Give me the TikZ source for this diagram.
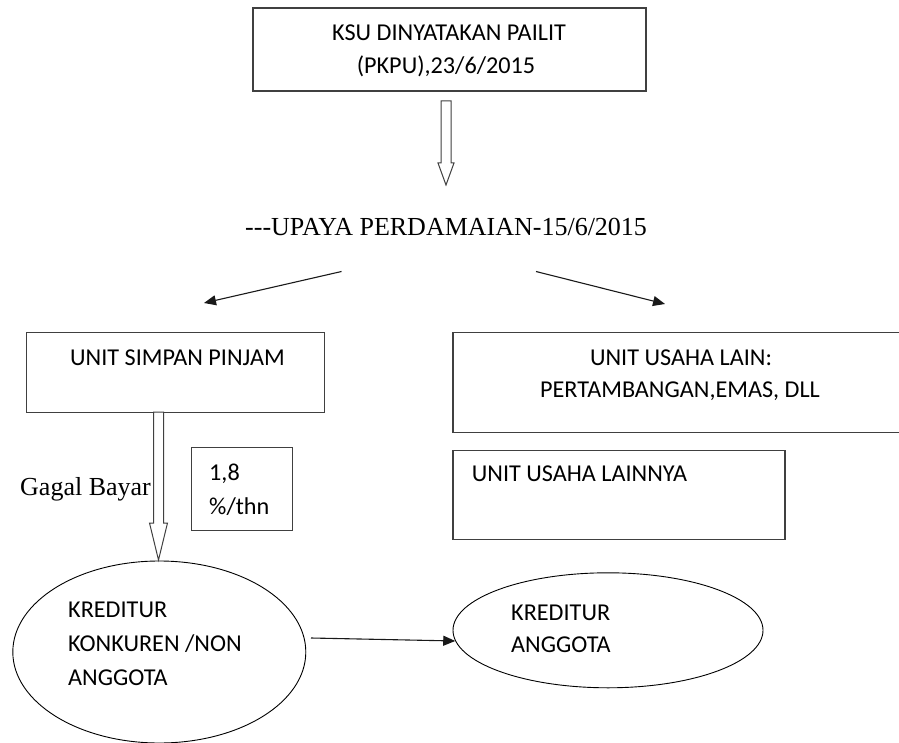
\documentclass[tikz,border=0pt]{standalone}
\usepackage{fontspec}
\setmainfont{Liberation Serif}
\newfontfamily\calibri{Carlito}
\usetikzlibrary{shapes.geometric,arrows.meta}
\tikzset{
  box/.style={draw=black!75,line width=1.1pt,inner sep=0pt},
  oval/.style={ellipse,draw=black,line width=0.9pt,inner sep=0pt},
  txt/.style={font=\calibri\fontsize{24.2}{34}\selectfont,inner sep=0pt,anchor=base west,text=black},
  srf/.style={font=\fontsize{26}{30}\selectfont,inner sep=0pt,anchor=base west,text=black},
  hollow/.style={draw=black!75,line width=1pt,fill=white},
  arr/.style={-{Triangle[length=12pt,width=10pt]},line width=1.1pt,black!90}
}
\begin{document}
\begin{tikzpicture}[x=1pt,y=-1pt]
\useasboundingbox (0,0) rectangle (899,743);
\clip (0,0) rectangle (899,743);
% boxes
\node(ksu) at (449.5,49.5)[box,minimum width=393pt,minimum height=83pt]{};
\node(usp) at (175.8,372.3)[box,minimum width=298pt,minimum height=80pt]{};
\node(lain) at (686.5,382.3)[box,minimum width=467pt,minimum height=100pt]{};
\node(rate) at (242.3,489.3)[box,minimum width=101pt,minimum height=83pt]{};
\node(lainnya) at (619,494.7)[box,minimum width=332pt,minimum height=89pt]{};
\node(kk) at (159.3,652)[oval,minimum width=293pt,minimum height=182pt]{};
\node(ka) at (608,630.3)[oval,minimum width=310pt,minimum height=115pt]{};
% texts
\node(ksu1) at (449,41)[txt,anchor=base]{KSU DINYATAKAN PAILIT};
\node(ksu2) at (446,74)[txt,anchor=base]{(PKPU),23/6/2015};
\node(upaya) at (245,235.7)[srf]{{-}{-}{-}UPAYA PERDAMAIAN-15/6/2015};
\node(usp1) at (70,365)[txt]{UNIT SIMPAN PINJAM};
\node(lain1) at (681,365)[txt,anchor=base]{UNIT USAHA LAIN:};
\node(lain2) at (680,397.3)[txt,anchor=base]{PERTAMBANGAN,EMAS, DLL};
\node(lainnya1) at (471.7,481.7)[txt]{UNIT USAHA LAINNYA};
\node(rate1) at (209,480.7)[txt]{1,8};
\node(rate2) at (209,514)[txt]{\%/thn};
\node(gagal) at (20,495)[srf]{Gagal Bayar};
\node(kk1) at (68,617.7)[txt]{KREDITUR};
\node(kk2) at (68,651.7)[txt]{KONKUREN /NON};
\node(kk3) at (68,685.7)[txt]{ANGGOTA};
\node(ka1) at (511,620)[txt]{KREDITUR};
\node(ka2) at (511,652.7)[txt]{ANGGOTA};
% hollow arrows
\coordinate(top1) at (446,101);
\coordinate(top2) at (158.5,412);
\draw[hollow] (top1) ++(-5,0) -- ++(0,62) -- ++(-3,0) -- ++(8,22) -- ++(8,-22) -- ++(-3,0) -- ++(0,-62) -- cycle;
\draw[hollow] (top2) ++(-5,0) -- ++(0,111) -- ++(-4,0) -- ++(9,37) -- ++(9,-37) -- ++(-4,0) -- ++(0,-111) -- cycle;
% arrows
\coordinate(upl) at (341.5,271.5);
\coordinate(upr) at (536,271.5);
\coordinate(endl) at (204,303);
\coordinate(endr) at (665,304);
\coordinate(kke) at (311,638);
\draw[arr] (upl) -- (endl);
\draw[arr] (upr) -- (endr);
\draw[arr] (kke) -- (ka.184);
\end{tikzpicture}
\end{document}
